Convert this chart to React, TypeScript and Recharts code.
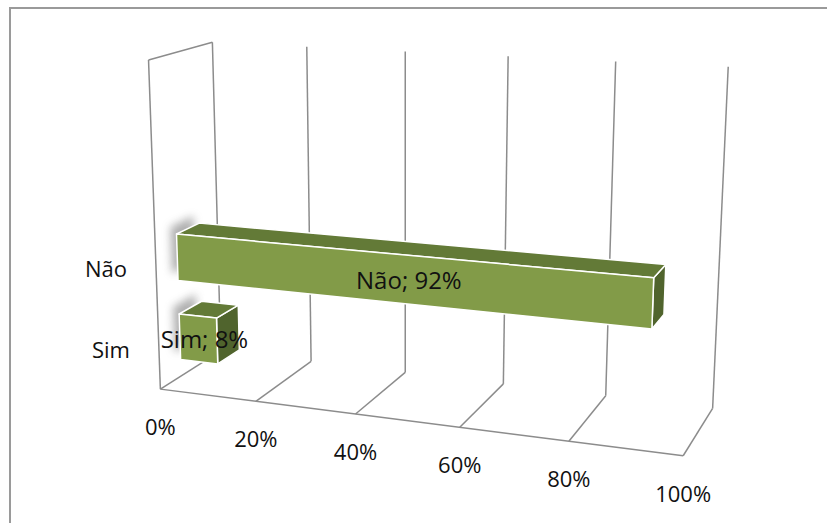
import React from 'react';
import { BarChart, Bar, XAxis, YAxis, CartesianGrid } from 'recharts';

const categories = ['Sim', 'Não'];
const shares = [0.08, 0.92];
const valueTicks = [0, 0.2, 0.4, 0.6, 0.8, 1];

const data = categories.map((name, i) => ({ name, value: shares[i] }));

const W = 827;
const H = 523;
const AXIS = 1; // axes keep 1px so their ticks still render
const PL = AXIS;
const PW = W - AXIS;
const PH = H - AXIS;
const FONT = '"Open Sans", "Liberation Sans", sans-serif';
const GRID = '#8c8c8c';

// box corners of the 3D scene: [value, height, depth] -> screen [x, y]
const CORNERS = [
    [0, 0, 0, 162, 388],
    [1, 0, 0, 683, 457],
    [1, 0, 1, 713, 407],
    [1, 1, 1, 728, 67],
    [0, 1, 1, 214, 42],
    [0, 1, 0, 147, 60],
    [0, 0, 1, 219, 352],
];

// fit a perspective camera (DLT) to the corners
function fitCamera(): number[] {
    const A: number[][] = [];
    const b: number[] = [];
    CORNERS.forEach(([X, Y, Z, u, w]) => {
        A.push([X, Y, Z, 1, 0, 0, 0, 0, -u * X, -u * Y, -u * Z]);
        b.push(u);
        A.push([0, 0, 0, 0, X, Y, Z, 1, -w * X, -w * Y, -w * Z]);
        b.push(w);
    });
    const n = 11;
    const M = Array.from({ length: n }, (_, i) => {
        const row = Array.from({ length: n }, (_, j) => A.reduce((s, r) => s + r[i] * r[j], 0));
        row.push(A.reduce((s, r, k) => s + r[i] * b[k], 0));
        return row;
    });
    for (let c = 0; c < n; c++) {
        let piv = c;
        for (let r = c + 1; r < n; r++) if (Math.abs(M[r][c]) > Math.abs(M[piv][c])) piv = r;
        [M[c], M[piv]] = [M[piv], M[c]];
        for (let r = 0; r < n; r++) {
            if (r === c) continue;
            const f = M[r][c] / M[c][c];
            for (let k = c; k <= n; k++) M[r][k] -= f * M[c][k];
        }
    }
    return M.map((row, i) => row[n] / row[i]);
}

const P = fitCamera();
const project = (v: number, h: number, z: number): [number, number] => {
    const d = P[8] * v + P[9] * h + P[10] * z + 1;
    return [(P[0] * v + P[1] * h + P[2] * z + P[3]) / d, (P[4] * v + P[5] * h + P[6] * z + P[7]) / d];
};

const Z_FRONT = 0.33;
const Z_BACK = 0.7;
const H_TOP = 0.505;
const toV = (x: number) => (x - PL) / PW;
const toH = (y: number) => H_TOP * (1 - y / PH);

const poly = (pts: number[][]) => pts.map((p) => project(p[0], p[1], p[2]).join(',')).join(' ');

function Bar3D(props: any) {
    const { x, y, width, height, index, payload } = props;
    const v0 = toV(x);
    const v1 = toV(x + width);
    const h1 = toH(y);
    const h0 = toH(y + height);
    const front = [[v0, h0, Z_FRONT], [v1, h0, Z_FRONT], [v1, h1, Z_FRONT], [v0, h1, Z_FRONT]];
    const top = [[v0, h1, Z_FRONT], [v1, h1, Z_FRONT], [v1, h1, Z_BACK], [v0, h1, Z_BACK]];
    const side = [[v1, h0, Z_FRONT], [v1, h0, Z_BACK], [v1, h1, Z_BACK], [v1, h1, Z_FRONT]];
    const end = [[v0, h0, Z_FRONT], [v0, h0, Z_BACK], [v0, h1, Z_BACK], [v0, h1, Z_FRONT]];
    const [cx, cy] = project((v0 + v1) / 2, (h0 + h1) / 2, Z_FRONT);
    const fid = `bar-shadow-${index}`;
    return (
        <g>
            <defs>
                <filter id={fid} x="-50%" y="-50%" width="200%" height="200%">
                    <feGaussianBlur stdDeviation="4" />
                </filter>
            </defs>
            <polygon points={poly(end)} fill="#6e6e6e" opacity={0.55} filter={`url(#${fid})`} transform="translate(-6,-7)" />
            <polygon points={poly(side)} fill="#50642d" stroke="#fff" strokeWidth={1.5} strokeLinejoin="round" />
            <polygon points={poly(top)} fill="#637a37" stroke="#fff" strokeWidth={1.5} strokeLinejoin="round" />
            <polygon points={poly(front)} fill="#829b48" stroke="#fff" strokeWidth={1.5} strokeLinejoin="round" />
            <text x={cx + 6} y={cy} textAnchor="middle" dominantBaseline="central" fontFamily={FONT} fontSize={24} fill="#111">
                {`${payload.name}; ${Math.round(payload.value * 100)}%`}
            </text>
        </g>
    );
}

function GridLine3D(props: any) {
    const { x1, index } = props;
    const v = toV(x1);
    const seg = (a: number[], b: number[], key: string) => {
        const [xa, ya] = project(a[0], a[1], a[2]);
        const [xb, yb] = project(b[0], b[1], b[2]);
        return <line key={key} x1={xa} y1={ya} x2={xb} y2={yb} stroke={GRID} strokeWidth={1.5} />;
    };
    return (
        <g key={`grid-${index}`}>
            {seg([v, 0, 0], [v, 0, 1], 'floor')}
            {seg([v, 0, 1], [v, 1, 1], 'wall')}
            {index === 0 && [
                seg([0, 0, 0], [0, 1, 0], 'side-front'),
                seg([0, 1, 0], [0, 1, 1], 'side-top'),
                seg([0, 0, 0], [1, 0, 0], 'floor-front'),
            ]}
        </g>
    );
}

function ValueTick(props: any) {
    const { x, payload } = props;
    const [px, py] = project(toV(x), 0, 0);
    return (
        <text x={px} y={py + 37} textAnchor="middle" dominantBaseline="central" fontFamily={FONT} fontSize={22} fill="#111">
            {`${Math.round(payload.value * 100)}%`}
        </text>
    );
}

function CategoryTick(props: any) {
    const { y, payload } = props;
    const [px, py] = project(0, toH(y), 0);
    return (
        <text x={px - 29} y={py} textAnchor="end" dominantBaseline="central" fontFamily={FONT} fontSize={22} fill="#111">
            {payload.value}
        </text>
    );
}

export default function App() {
    return (
        <div style={{ position: 'absolute', left: 0, top: 0, width: W, height: H, background: '#fff', overflow: 'hidden' }}>
            <div style={{ position: 'absolute', left: 9, top: 7, width: W, height: H, borderLeft: '2px solid #9a9a9a', borderTop: '2px solid #9a9a9a' }} />
            <BarChart
                width={W}
                height={H}
                data={data}
                layout="vertical"
                margin={{ top: 0, right: 0, bottom: 0, left: 0 }}
                barCategoryGap="21%"
            >
                <CartesianGrid horizontal={false} vertical={GridLine3D} />
                <XAxis type="number" domain={[0, 1]} ticks={valueTicks} interval={0} height={AXIS} axisLine={false} tickLine={false} tick={ValueTick} />
                <YAxis type="category" dataKey="name" reversed width={AXIS} interval={0} axisLine={false} tickLine={false} tick={CategoryTick} />
                <Bar dataKey="value" shape={Bar3D} isAnimationActive={false} />
            </BarChart>
        </div>
    );
}
